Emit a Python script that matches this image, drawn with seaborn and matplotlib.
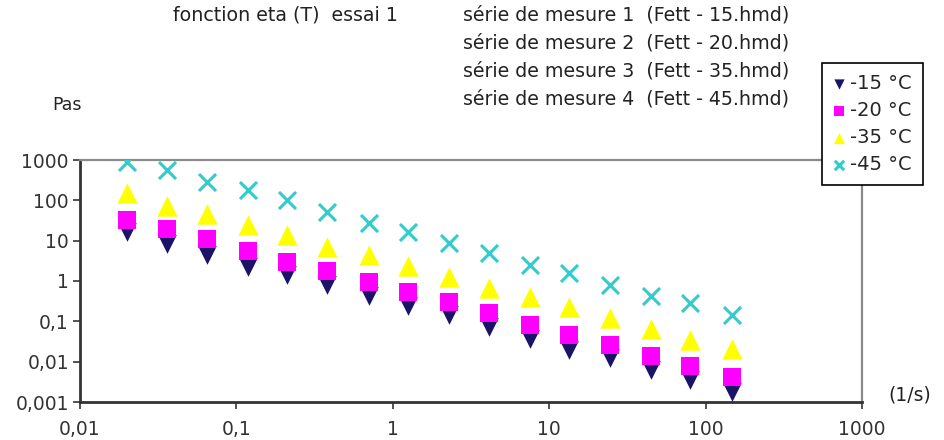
import matplotlib
matplotlib.use("Agg")
import matplotlib.pyplot as plt
import numpy as np
import pandas as pd
import seaborn as sns
from matplotlib.ticker import FixedLocator, FuncFormatter, NullLocator

# ---- data ----
shear_rate = [0.02, 0.036, 0.065, 0.118, 0.21, 0.38, 0.70, 1.25, 2.3, 4.1,
              7.5, 13.3, 24.5, 45, 80, 148]
eta_m15 = [16.7, 8.3, 4.5, 2.2, 1.4, 0.81, 0.42, 0.24, 0.145, 0.074,
           0.037, 0.020, 0.012, 0.0063, 0.0036, 0.0018]
eta_m20 = [33, 19.5, 11, 5.6, 3.0, 1.8, 0.95, 0.54, 0.31, 0.16,
           0.083, 0.045, 0.026, 0.014, 0.0076, 0.0042]
eta_m35 = [150, 72, 45, 25, 14, 7.0, 4.5, 2.4, 1.27, 0.68,
           0.41, 0.23, 0.12, 0.063, 0.035, 0.021]
eta_m45 = [900, 565, 285, 181, 102, 52, 27.5, 16.6, 8.8, 5.0,
           2.5, 1.6, 0.80, 0.42, 0.29, 0.145]
series_labels = ["-15 °C", "-20 °C", "-35 °C", "-45 °C"]
x_ticks = [0.01, 0.1, 1, 10, 100, 1000]
y_ticks = [0.001, 0.01, 0.1, 1, 10, 100, 1000]
header_title = "fonction eta (T)  essai 1"
header_lines = ["série de mesure 1  (Fett - 15.hmd)",
                "série de mesure 2  (Fett - 20.hmd)",
                "série de mesure 3  (Fett - 35.hmd)",
                "série de mesure 4  (Fett - 45.hmd)"]

frames = []
for lab, vals in zip(series_labels, [eta_m15, eta_m20, eta_m35, eta_m45]):
    frames.append(pd.DataFrame({"rate": shear_rate, "eta": vals, "serie": lab}))
df = pd.concat(frames, ignore_index=True)

sns.set_style("white")
plt.rcParams["font.family"] = ["DejaVu Sans"]

W, H = 945, 440
fig = plt.figure(figsize=(W / 100, H / 100), dpi=100)
fig.patch.set_facecolor("white")
ax = fig.add_axes([80 / W, 1 - 402 / H, (862 - 80) / W, (402 - 160) / H])

styles = {
    "-15 °C": dict(marker="v", color="#1b1466", s=180, lw=0),
    "-20 °C": dict(marker="s", color="#ff00ff", s=175, lw=0),
    "-35 °C": dict(marker="^", color="#ffff00", s=215, lw=0),
    "-45 °C": dict(marker="x", color="#33cccc", s=150, lw=2.2),
}
for lab in series_labels:
    st = styles[lab]
    sns.scatterplot(data=df[df["serie"] == lab], x="rate", y="eta", ax=ax,
                    marker=st["marker"], color=st["color"], s=st["s"],
                    linewidth=st["lw"], edgecolor=st["color"] if st["marker"] != "x" else None,
                    label=lab, zorder=3)

ax.set_xscale("log")
ax.set_yscale("log")
ax.set_xlim(0.01, 1000)
ax.set_ylim(0.001, 1000)
ax.xaxis.set_major_locator(FixedLocator(x_ticks))
ax.yaxis.set_major_locator(FixedLocator(y_ticks))
ax.xaxis.set_minor_locator(NullLocator())
ax.yaxis.set_minor_locator(NullLocator())
fmt = FuncFormatter(lambda v, p: "{:g}".format(v).replace(".", ","))
ax.xaxis.set_major_formatter(fmt)
ax.yaxis.set_major_formatter(fmt)
ax.set_xlabel("")
ax.set_ylabel("")
ax.grid(False)

for side in ["left", "bottom"]:
    ax.spines[side].set_color("#333333")
    ax.spines[side].set_linewidth(2.0)
for side in ["top", "right"]:
    ax.spines[side].set_color("#8a8a8a")
    ax.spines[side].set_linewidth(1.6)
    ax.spines[side].set_visible(True)

ax.tick_params(axis="both", which="major", direction="out", length=5,
               width=1.2, color="#333333", labelsize=13.5, labelcolor="#333333")
ax.tick_params(axis="x", pad=8, bottom=True)
ax.tick_params(axis="y", pad=3, left=True)

leg = ax.legend(loc="upper left", bbox_to_anchor=(822 / W, 1 - 63 / H),
                bbox_transform=fig.transFigure, frameon=True, fancybox=False,
                framealpha=1, edgecolor="black", fontsize=14, markerscale=0.55,
                labelspacing=0.42, borderpad=0.55, handlelength=0.6,
                handletextpad=0.3, borderaxespad=0)
leg.get_frame().set_linewidth(1.2)
leg.set_zorder(10)

txt_kw = dict(fontsize=13.7, color="#222222", va="center", ha="left")
fig.text(173 / W, 1 - 15 / H, header_title, **txt_kw)
for i, line in enumerate(header_lines):
    fig.text(463 / W, 1 - (15 + 28 * i) / H, line, **txt_kw)
fig.text(67 / W, 1 - 105 / H, "Pas", fontsize=12.5, color="#222222", ha="center", va="center")
fig.text(888 / W, 1 - 395 / H, "(1/s)", fontsize=13.5, color="#222222", ha="left", va="center")

fig.savefig("out.png", dpi=100, facecolor="white")
